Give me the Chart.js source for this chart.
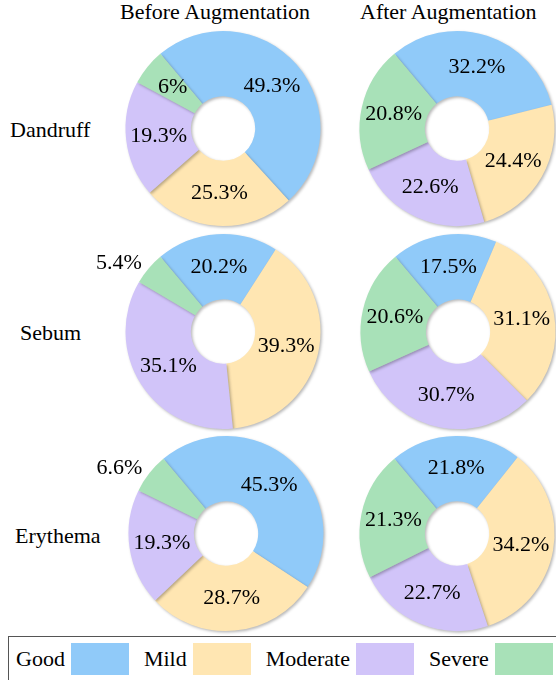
<!DOCTYPE html>
<html>
<head>
<meta charset="utf-8">
<script src="https://cdn.jsdelivr.net/npm/chart.js@4.4.1/dist/chart.umd.min.js"></script>
<style>
  html, body { margin: 0; padding: 0; background: #fff; overflow: hidden; }
  body { width: 556px; height: 680px; position: relative; font-family: "Liberation Serif", "Times New Roman", serif; color: #000; }
  .txt { position: absolute; font-size: 22px; line-height: 24px; white-space: nowrap; }
  canvas { position: absolute; }
  #legend { position: absolute; left: 8px; top: 636px; width: 570px; height: 60px; border: 1.5px solid #555; box-sizing: border-box; display: flex; align-items: center; padding-left: 7px; padding-bottom: 14px; }
  #legend span { font-size: 22px; margin-right: 6px; }
  #legend i { display: inline-block; width: 58px; height: 32px; margin-right: 15px; }
</style>
</head>
<body>
<div class="txt" style="left:120px;top:0px;">Before Augmentation</div>
<div class="txt" style="left:360px;top:0px;">After Augmentation</div>
<div class="txt" style="left:10px;top:118px;">Dandruff</div>
<div class="txt" style="left:20px;top:321px;">Sebum</div>
<div class="txt" style="left:15px;top:524px;">Erythema</div>
<div id="legend"></div>
<script>
var categories = ['Good', 'Mild', 'Moderate', 'Severe'];
var colors = ['#90CAF9', '#FFE6B2', '#D1C4F9', '#A8E1B8'];

var dandruffBefore = [49.3, 25.3, 19.3, 6];
var dandruffAfter = [32.2, 24.4, 22.6, 20.8];
var sebumBefore = [20.2, 39.3, 35.1, 5.4];
var sebumAfter = [17.5, 31.1, 30.7, 20.6];
var erythemaBefore = [45.3, 28.7, 19.3, 6.6];
var erythemaAfter = [21.8, 34.2, 22.7, 21.3];

// where each donut sits on the page, and which labels go outside the ring
var panels = [
  { data: dandruffBefore, cx: 223, cy: 128.5, w: 260, outside: [] },
  { data: dandruffAfter, cx: 457, cy: 128, w: 220, outside: [] },
  { data: sebumBefore, cx: 223, cy: 331, w: 260, outside: [3] },
  { data: sebumAfter, cx: 458, cy: 331, w: 220, outside: [] },
  { data: erythemaBefore, cx: 226, cy: 533, w: 260, outside: [3] },
  { data: erythemaAfter, cx: 457, cy: 533.5, w: 220, outside: [] }
];

/** soft drop shadow round the ring */
var ringShadow = {
  id: 'ringShadow',
  beforeDatasetDraw: function(chart) {
    var ctx = chart.ctx;
    ctx.save();
    ctx.shadowColor = 'rgba(0,0,0,0.28)';
    ctx.shadowBlur = 3;
    ctx.shadowOffsetX = 1.5;
    ctx.shadowOffsetY = 1.5;
  },
  afterDatasetDraw: function(chart) {
    chart.ctx.restore();
  }
};

/** percent labels, inside the ring or just outside it */
var pctLabels = {
  id: 'pctLabels',
  afterDatasetsDraw: function(chart, args, opts) {
    var ctx = chart.ctx;
    var meta = chart.getDatasetMeta(0);
    var values = chart.data.datasets[0].data;
    ctx.save();
    ctx.font = '22px "Liberation Serif", serif';
    ctx.fillStyle = '#000';
    ctx.textBaseline = 'middle';
    meta.data.forEach(function(arc, i) {
      var mid = (arc.startAngle + arc.endAngle) / 2;
      var r;
      if (opts.outside.indexOf(i) >= 0) {
        r = arc.outerRadius * 1.09;
        ctx.textAlign = 'right';
      } else {
        r = (arc.innerRadius + arc.outerRadius) / 2;
        ctx.textAlign = 'center';
      }
      ctx.fillText(values[i] + '%', arc.x + r * Math.cos(mid), arc.y + r * Math.sin(mid));
    });
    ctx.restore();
  }
};

panels.forEach(function(p) {
  var h = 205;
  var cv = document.createElement('canvas');
  cv.width = p.w;
  cv.height = h;
  cv.style.left = (p.cx - p.w / 2) + 'px';
  cv.style.top = (p.cy - h / 2) + 'px';
  document.body.appendChild(cv);

  new Chart(cv.getContext('2d'), {
    type: 'doughnut',
    data: {
      labels: categories,
      datasets: [{
        data: p.data,
        backgroundColor: colors,
        borderWidth: 0
      }]
    },
    options: {
      responsive: false,
      animation: false,
      rotation: -40,
      radius: 97.5,
      cutout: '33%',
      plugins: {
        legend: { display: false },
        tooltip: { enabled: false },
        pctLabels: { outside: p.outside }
      }
    },
    plugins: [ringShadow, pctLabels]
  });
});

// legend strip at the bottom
var legend = document.getElementById('legend');
categories.forEach(function(c, i) {
  var s = document.createElement('span');
  s.textContent = c;
  var sw = document.createElement('i');
  sw.style.background = colors[i];
  legend.appendChild(s);
  legend.appendChild(sw);
});
</script>
</body>
</html>
